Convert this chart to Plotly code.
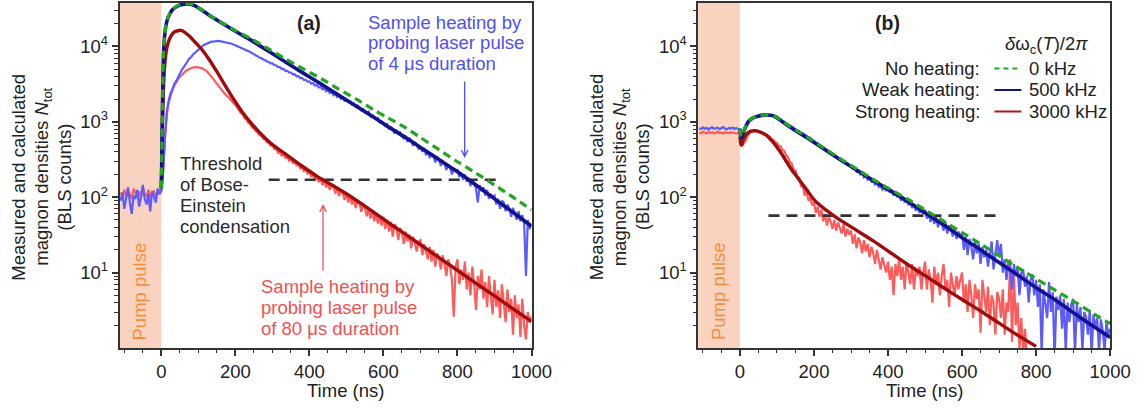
import plotly.graph_objects as go

W, H = 1144, 410
FONT = "Liberation Sans, Arial, Helvetica, sans-serif"

# ---------------- measured data (5 ns sampling) ----------------
T_MEAS = list(range(-110, 1001, 5))

A_BLUE_MEAS = [
    90, 115, 70, 100, 135, 85, 60, 105, 95, 125, 75, 100, 145, 95, 80, 110, 65, 120, 100, 85, 130, 110,
    120, 230, 650, 1400, 1950, 2400, 2700, 3200, 3450, 3900, 4250, 4850, 5250, 5850, 6250, 6850, 7150, 7750, 8150, 8750,
    9150, 9750, 9950, 10450, 10750, 11150, 11250, 11550, 11550, 11750, 11750, 11800, 11650, 11700, 11500, 11350, 11200, 11000, 10850, 10550,
    10300, 9950, 9850, 9500, 9380, 9080, 8900, 8550, 8400, 8070, 7920, 7550, 7420, 7100, 7000, 6700, 6600, 6320, 6220, 5950,
    5950, 5660, 5620, 5330, 5310, 5030, 5020, 4740, 4740, 4500, 4500, 4250, 4280, 4010, 4040, 3800, 3820, 3590, 3600, 3400,
    3430, 3200, 3260, 3020, 3090, 2850, 2920, 2700, 2780, 2540, 2630, 2400, 2480, 2250, 2330, 2130, 2220, 2010, 2100, 1900,
    1950, 1830, 1880, 1700, 1760, 1580, 1650, 1560, 1420, 1480, 1400, 1290, 1360, 1180, 1230, 1150, 1090, 1120, 980, 1010,
    960, 880, 930, 790, 850, 800, 700, 760, 690, 720, 640, 600, 650, 540, 610, 560, 480, 530, 500, 430,
    470, 400, 450, 360, 410, 330, 380, 350, 290, 340, 320, 260, 300, 280, 230, 270, 250, 200, 240, 225,
    230, 185, 210, 170, 200, 160, 180, 140, 170, 150, 130, 85, 145, 120, 135, 105, 125, 95, 110, 100,
    105, 80, 95, 70, 90, 85, 65, 80, 70, 55, 72, 60, 50, 65, 48, 58, 45, 9, 50, 38,
    45,
]

A_RED_MEAS = [
    115, 105, 125, 100, 120, 110, 95, 130, 115, 105, 120, 100, 135, 110, 105, 125, 100, 115, 120, 105, 110, 125,
    125, 220, 620, 1250, 1800, 2200, 2650, 3000, 3350, 3650, 3950, 4200, 4450, 4650, 4850, 5000, 5150, 5250, 5300, 5350,
    5280, 5180, 5150, 4930, 4810, 4530, 4290, 3980, 3740, 3430, 3180, 2930, 2770, 2550, 2420, 2240, 2160, 2000, 1920, 1760,
    1680, 1520, 1430, 1300, 1250, 1110, 1070, 960, 940, 840, 825, 750, 725, 665, 655, 595, 590, 535, 530, 485,
    490, 435, 440, 390, 400, 355, 372, 335, 345, 305, 320, 285, 298, 265, 275, 242, 250, 222, 232, 205,
    220, 185, 205, 170, 190, 158, 178, 145, 168, 135, 155, 125, 145, 138, 112, 130, 104, 120, 115, 92,
    115, 85, 105, 80, 98, 72, 90, 84, 64, 80, 72, 56, 70, 52, 66, 48, 60, 45, 55, 42,
    55, 38, 50, 35, 47, 30, 44, 40, 27, 39, 34, 24, 35, 26, 32, 21, 30, 25, 19, 26,
    27, 17, 24, 19, 15, 22, 14, 20, 12, 18, 16, 11, 17, 13, 9, 15, 12, 8, 2.6, 12,
    15, 7, 11, 8, 14, 6, 10, 5, 12, 7, 3.2, 9, 6, 11, 4.5, 7.5, 3.5, 9, 5, 2.8,
    8, 3.5, 5.8, 2.5, 7, 4, 2.2, 6, 3, 4.5, 1.5, 5, 2.5, 3.8, 1.4, 4.5, 2, 1.3, 3, 2.2,
    2.6,
]

B_BLUE_MEAS = [
    820, 800, 840, 810, 830, 790, 825, 845, 805, 815, 835, 800, 820, 850, 810, 795, 830, 815, 840, 805, 825, 810,
    790, 640, 700, 830, 920, 1020, 1060, 1130, 1150, 1200, 1210, 1250, 1240, 1270, 1240, 1250, 1220, 1225, 1190, 1185,
    1170, 1110, 1085, 1030, 1005, 950, 930, 895, 865, 825, 805, 765, 755, 715, 705, 675, 655, 625, 615, 580,
    560, 525, 520, 482, 478, 445, 440, 412, 408, 380, 376, 352, 348, 325, 325, 302, 298, 280, 280, 260,
    262, 238, 242, 217, 225, 201, 208, 183, 192, 170, 179, 160, 165, 147, 153, 137, 142, 126, 134, 121,
    135, 115, 125, 105, 115, 100, 108, 90, 100, 85, 95, 78, 88, 72, 80, 66, 76, 62, 70, 60,
    68, 52, 62, 47, 58, 44, 55, 40, 50, 45, 36, 47, 33, 42, 38, 30, 39, 28, 35, 31,
    33, 20, 30, 17, 28, 22, 15, 26, 18, 24, 13, 22, 16, 20, 12, 19, 26, 11, 17, 27,
    16, 24, 10, 15, 8, 14, 11, 6, 13, 9, 12, 5, 10, 11, 6.5, 9, 4, 8, 9.5, 5,
    8, 3.5, 7, 0.8, 6, 4, 2.5, 7.5, 3, 5.5, 0.7, 4.8, 3.2, 5, 1.8, 4.5, 0.9, 4, 2.2, 3.8,
    4.5, 0.8, 3.8, 2.2, 3.5, 0.9, 3, 2.6, 1.5, 3.2, 0.8, 2.8, 1.8, 2.5, 0.9, 2.4, 1.7, 0.9, 2.2, 1.5,
    1.8,
]

B_RED_MEAS = [
    720, 705, 735, 715, 700, 730, 710, 725, 700, 715, 740, 710, 720, 695, 725, 715, 705, 730, 720, 710, 700, 715,
    650, 470, 505, 555, 640, 685, 740, 755, 780, 760, 760, 735, 725, 695, 685, 655, 635, 595, 575, 535,
    525, 480, 470, 420, 410, 355, 340, 290, 280, 230, 225, 180, 180, 140, 140, 105, 120, 90, 100, 78,
    85, 62, 75, 55, 68, 48, 60, 42, 55, 48, 38, 50, 36, 46, 40, 33, 44, 30, 38, 32,
    36, 24, 32, 21, 29, 25, 18, 27, 19, 24, 16, 22, 18, 13, 20, 15, 11, 16, 12, 10,
    14, 8, 12, 5, 13, 9, 15, 8, 12, 6, 14, 10, 7, 13, 6, 11, 9, 12, 6, 10,
    14, 6, 11, 8, 4, 12, 7, 10, 5, 9, 13, 6, 8, 3.5, 10, 7, 5, 9, 6, 8,
    10, 4, 7, 3, 8, 5, 2.5, 7, 4.5, 6, 1.6, 8, 5, 3, 6.5, 2, 5, 4, 1.5, 5.5,
    4.5, 2.5, 6, 1.5, 4, 3, 15, 1.2, 10, 2, 4, 1, 2.5, 0.8, 1.8, 0.7, 0.9, 0.6, 0.5, 0.8,
    0.6, 0.4, 0.7, 0.3, 0.5, 0.6, 0.4, 0.5, 0.3, 0.6, 0.5, 0.4, 0.7, 0.3, 0.5, 0.4, 0.6, 0.3, 0.5, 0.4,
    0.6, 0.4, 0.7, 0.3, 0.5, 0.6, 0.4, 0.5, 0.3, 0.6, 0.5, 0.4, 0.7, 0.3, 0.5, 0.4, 0.6, 0.3, 0.5, 0.4,
    0.4,
]

# ---------------- calculated curves ----------------
A_T_MODEL = [0, 1.5, 3, 4.5, 6, 9, 13, 18, 23, 30, 45, 58, 72, 90, 110, 130, 153, 200, 243, 290,
             333, 380, 432, 480, 530, 580, 613, 660, 700, 750, 793, 850, 900, 950, 1000]
A_BLUE_MODEL = [130, 400, 1500, 4000, 8000, 14000, 19500, 24000, 27000, 30500, 34500, 36000, 36500, 34700,
                30200, 25700, 21900, 15850, 12000, 8610, 6310, 4520, 3160, 2240, 1570, 1096, 861, 617, 457,
                316, 229, 145, 95, 63, 41]
A_GREEN_MODEL = [130, 400, 1500, 4100, 8200, 14300, 19800, 24300, 27300, 30800, 34900, 36400, 36900, 35100,
                 30500, 26000, 22100, 16200, 12600, 9230, 6920, 5130, 3720, 2690, 1950, 1380, 1120, 832, 617,
                 427, 309, 209, 145, 100, 68]
A_T_RED = [0, 1.5, 3, 4.5, 6, 9, 13, 18, 25, 35, 54, 75, 90, 108, 130, 153, 175, 198, 220, 243,
           265, 288, 310, 333, 378, 423, 468, 505, 550, 600, 650, 700, 750, 800, 850, 900, 950, 1000]
A_RED_MODEL = [130, 350, 900, 1800, 3000, 5500, 8500, 11000, 13500, 15500, 16300, 13800, 11500, 9300,
               6600, 4370, 2880, 1900, 1320, 955, 724, 562, 457, 380, 263, 186, 138, 107, 76, 51,
               34.7, 23.4, 15.8, 10.7, 7.2, 4.9, 3.3, 2.24]

B_T_MODEL = [0, 1.5, 3, 5, 8, 12, 16, 22, 33, 45, 68, 90, 112, 135, 180, 225, 270, 315, 360, 405,
             455, 500, 550, 600, 650, 700, 750, 800, 850, 900, 950, 1000]
B_BLUE_MODEL = [800, 700, 620, 630, 690, 780, 870, 1000, 1110, 1170, 1230, 1200, 1020, 850, 617, 442,
                316, 229, 166, 123, 87, 62, 43, 29, 20, 13.6, 9.3, 6.3, 4.4, 2.95, 2.0, 1.38]
B_GREEN_MODEL = [820, 720, 640, 650, 710, 800, 890, 1010, 1120, 1180, 1240, 1210, 1040, 870, 632, 455,
                 326, 237, 172, 128, 93, 68, 48, 34, 24, 16.8, 11.7, 8.3, 5.9, 4.2, 2.95, 2.1]
B_T_RED = [0, 1.5, 3, 5, 8, 12, 18, 30, 41, 55, 72, 85, 99, 112, 126, 140, 153, 166, 180, 200,
           225, 252, 270, 315, 360, 405, 455, 500, 550, 600, 650, 700, 750, 800]
B_RED_MODEL = [640, 540, 495, 500, 560, 620, 690, 750, 760, 730, 660, 565, 468, 380, 295, 230, 190, 155,
               126, 93, 72, 57.5, 50, 36.3, 26.3, 18.6, 12.6, 9.1, 6.3, 4.4, 3.1, 2.14, 1.48, 1.05]

# BEC threshold levels
A_THR_T = [290, 920]
A_THR = [170, 170]
B_THR_T = [77, 707]
B_THR = [57, 57]

Y_TICKS = [10, 100, 1000, 10000]
Y_TICKTEXT = ["10<sup>1</sup>", "10<sup>2</sup>", "10<sup>3</sup>", "10<sup>4</sup>"]
LEGEND_ROWS = ["No heating:", "Weak heating:", "Strong heating:"]
LEGEND_VALS = ["0 kHz", "500 kHz", "3000 kHz"]

# colours
C_BLUE_MEAS = "#5B5BFF"
C_RED_MEAS = "#FF5B5B"
C_BLUE_MOD = "#12128F"
C_RED_MOD = "#A00C0C"
C_GREEN = "#22A622"
C_THR = "#333333"
C_PUMP = "#FAD3C0"
C_PUMP_TXT = "#F58E3C"
FS = 18.5

fig = go.Figure()


def add_panel(xa, ya, red_meas, blue_meas, t_mod, blue_mod, green_mod, t_red, red_mod, thr_t, thr):
    common = dict(xaxis=xa, yaxis=ya, mode="lines", hoverinfo="skip")
    fig.add_trace(go.Scatter(x=T_MEAS, y=red_meas, line=dict(color=C_RED_MEAS, width=2.2), **common))
    fig.add_trace(go.Scatter(x=T_MEAS, y=blue_meas, line=dict(color=C_BLUE_MEAS, width=2.2), **common))
    fig.add_trace(go.Scatter(x=thr_t, y=thr, line=dict(color=C_THR, width=2.6, dash="11px,7px"), **common))
    fig.add_trace(go.Scatter(x=t_red, y=red_mod, line=dict(color=C_RED_MOD, width=3.4, shape="spline", smoothing=0.7), **common))
    fig.add_trace(go.Scatter(x=t_mod, y=blue_mod, line=dict(color=C_BLUE_MOD, width=3.6, shape="spline", smoothing=0.7), **common))
    fig.add_trace(go.Scatter(x=t_mod, y=green_mod, line=dict(color=C_GREEN, width=3.2, dash="8px,5px", shape="spline", smoothing=0.7), **common))


add_panel("x", "y", A_RED_MEAS, A_BLUE_MEAS, A_T_MODEL, A_BLUE_MODEL, A_GREEN_MODEL, A_T_RED, A_RED_MODEL, A_THR_T, A_THR)
add_panel("x2", "y2", B_RED_MEAS, B_BLUE_MEAS, B_T_MODEL, B_BLUE_MODEL, B_GREEN_MODEL, B_T_RED, B_RED_MODEL, B_THR_T, B_THR)

MINOR_Y = [m * 10 ** k for k in range(0, 5) for m in range(2, 10) if m * 10 ** k < 37000]


def X(x):
    # horizontal placement (pixels) -> paper fraction
    return (x + 1.8) / 0.984 / W


xax = dict(range=[-113, 1000], tick0=0, dtick=200, ticks="outside", ticklen=6, tickwidth=1.5, tickcolor="#333",
           minor=dict(tick0=0, dtick=50, ticks="outside", ticklen=3.5, tickwidth=1.2, tickcolor="#333"),
           showline=True, linecolor="#333", linewidth=1.5, mirror=True, showgrid=False, zeroline=False,
           tickfont=dict(family=FONT, size=FS, color="#222"))
yax = dict(type="log", range=[0, 4.575], tickmode="array", tickvals=Y_TICKS, ticktext=Y_TICKTEXT,
           ticks="outside", ticklen=6, tickwidth=1.5, tickcolor="#333",
           minor=dict(tickmode="array", tickvals=MINOR_Y, ticks="outside", ticklen=3.5, tickwidth=1.2, tickcolor="#333"),
           showline=True, linecolor="#333", linewidth=1.5, mirror=True, showgrid=False, zeroline=False,
           tickfont=dict(family=FONT, size=FS, color="#222"), domain=[1 - 348 / H, 1 - 3 / H])

fig.update_layout(
    width=W, height=H, margin=dict(l=0, r=0, t=0, b=0), autosize=False,
    paper_bgcolor="white", plot_bgcolor="white", showlegend=False,
    font=dict(family=FONT, size=FS, color="#222"),
    xaxis=dict(xax, domain=[X(118), X(531)], anchor="y"),
    yaxis=dict(yax, anchor="x"),
    xaxis2=dict(xax, domain=[X(698), X(1111)], anchor="y2"),
    yaxis2=dict(yax, anchor="x2"),
)

shapes = []
for xr, yr in (("x", "y domain"), ("x2", "y2 domain")):
    shapes.append(dict(type="rect", xref=xr, yref=yr, x0=-113, x1=0, y0=0, y1=1,
                       fillcolor=C_PUMP, line=dict(width=0), layer="below"))

annotations = []


def P(x, y):
    return X(x), 1 - y / H


def txt(x, y, s, color="#222", size=FS, xanchor="center", angle=0):
    px_, py_ = P(x, y)
    annotations.append(dict(xref="paper", yref="paper", x=px_, y=py_, text=s, showarrow=False,
                            xanchor=xanchor, yanchor="middle", textangle=angle,
                            font=dict(family=FONT, size=size, color=color)))


for off in (0, 580):
    txt(17 + off, 177, "Measured and calculated", angle=-90)
    txt(41 + off, 177, "magnon densities <i>N</i><sub>tot</sub>", angle=-90)
    txt(63 + off, 177, "(BLS counts)", angle=-90)
    txt(138 + off, 291, "Pump pulse", color=C_PUMP_TXT, angle=-90)
    txt(345 + off, 390, "Time (ns)")

txt(308, 23, "<b>(a)</b>", size=19.5)
txt(888, 23, "<b>(b)</b>", size=19.5)

BLUE_TXT = "#5050F2"
RED_TXT = "#F25050"
for i, s in enumerate(["Sample heating by", "probing laser pulse", "of 4 μs duration"]):
    txt(365, 22 + 20.8 * i, s, color=BLUE_TXT, xanchor="left")
for i, s in enumerate(["Sample heating by", "probing laser pulse", "of 80 μs duration"]):
    txt(257.5, 286.5 + 20.8 * i, s, color=RED_TXT, xanchor="left")
for i, s in enumerate(["Threshold", "of Bose-", "Einstein", "condensation"]):
    txt(176.5, 163.5 + 21 * i, s, color="#2a2a2a", xanchor="left")

for (x, ytip, ytail, col) in ((464, 158, 80, BLUE_TXT), (322, 204, 272, RED_TXT)):
    px_, py_ = P(x, ytip)
    annotations.append(dict(xref="paper", yref="paper", x=px_, y=py_, ax=0, ay=ytail - ytip,
                            showarrow=True, arrowhead=5, arrowsize=1.0, arrowwidth=1.3,
                            arrowcolor=col, text=""))

txt(1047, 45, "<i>δ</i>ω<sub>c</sub>(<i>T</i>)/2<i>π</i>")
leg_styles = [dict(color=C_GREEN, width=2, dash="5px,4px"),
              dict(color=C_BLUE_MOD, width=2),
              dict(color="#B01818", width=2)]
for i, (lab, val, st) in enumerate(zip(LEGEND_ROWS, LEGEND_VALS, leg_styles)):
    yy = 68.5 + 21.5 * i
    txt(983, yy, lab, xanchor="right")
    txt(1028, yy, val, xanchor="left")
    x0, y0 = P(995, yy)
    x1, _ = P(1022, yy)
    shapes.append(dict(type="line", xref="paper", yref="paper", x0=x0, x1=x1, y0=y0, y1=y0, line=st))

fig.update_layout(shapes=shapes, annotations=annotations)
fig.write_html("out.html")
